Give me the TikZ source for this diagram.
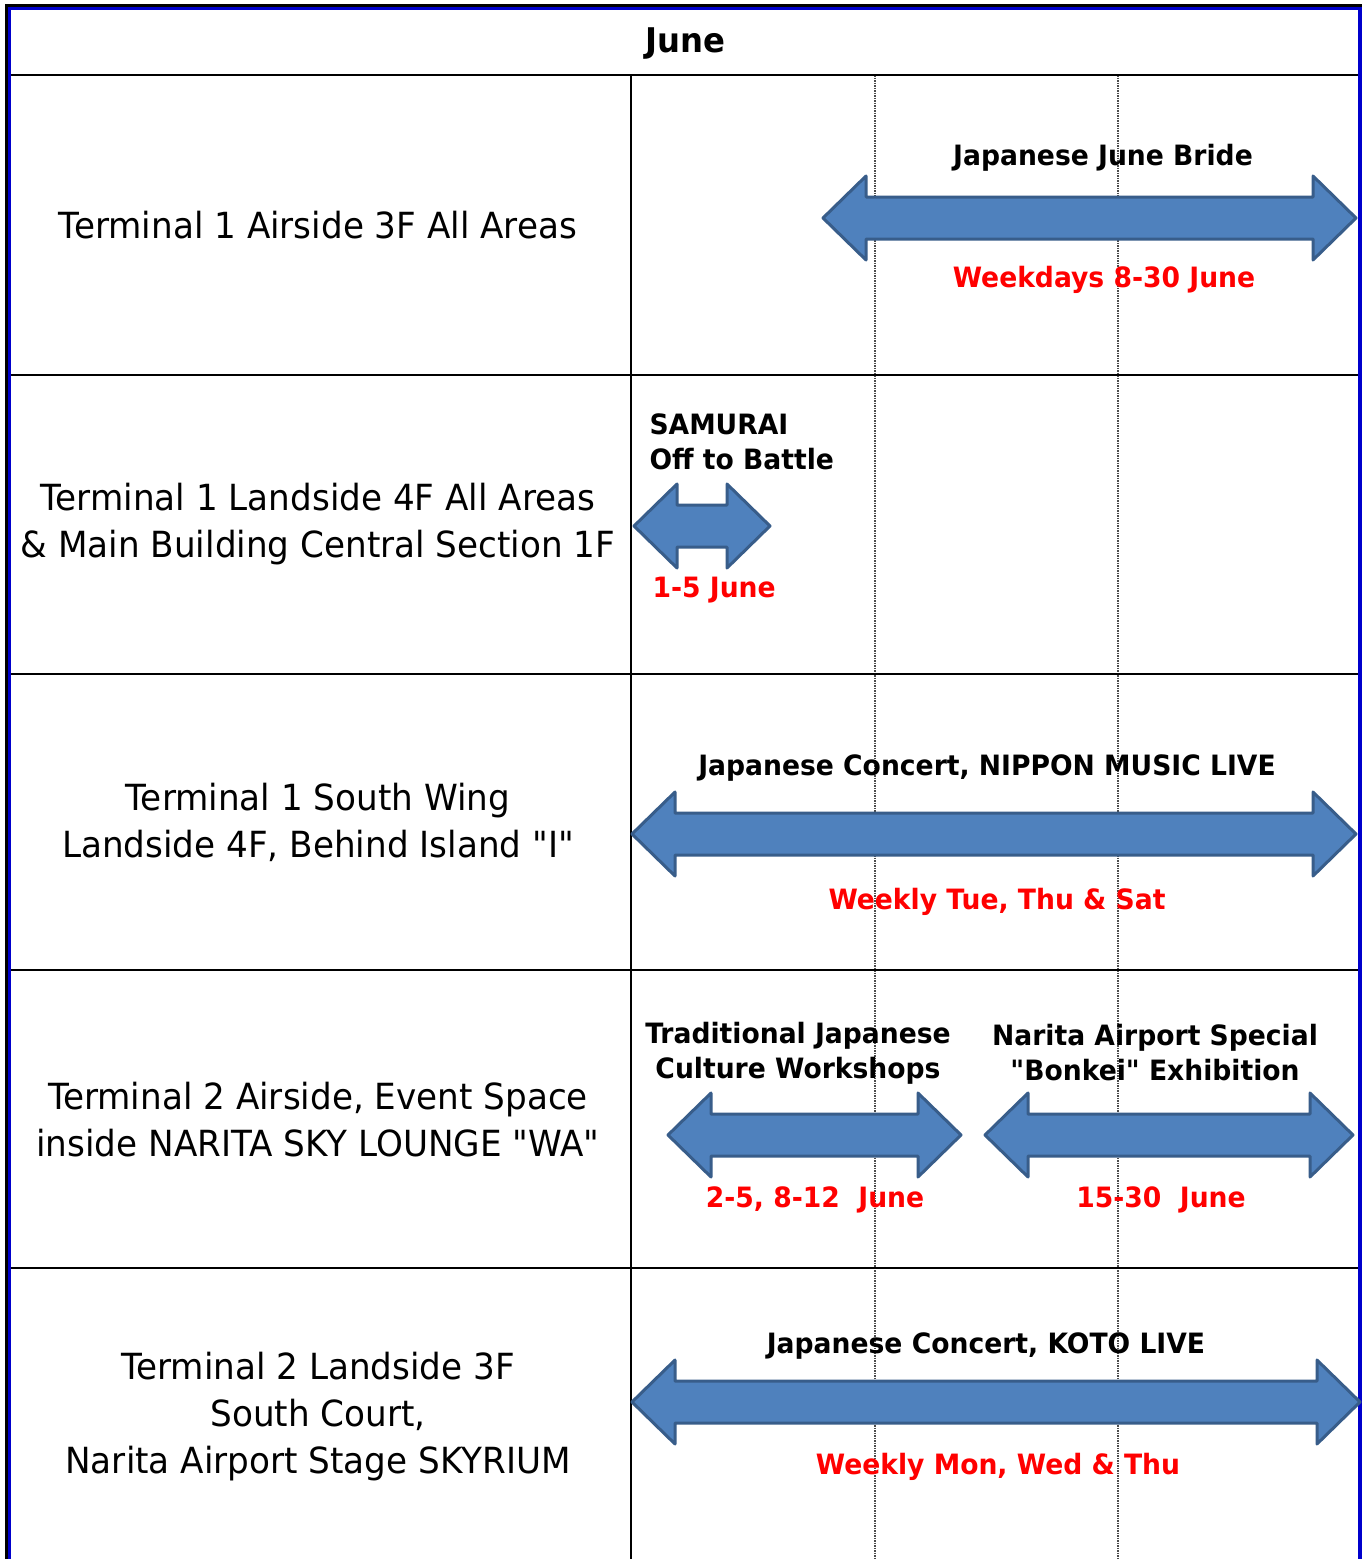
\documentclass[tikz,border=0pt]{standalone}
\usepackage{fontspec}
\setmainfont{DejaVu Sans}[FakeStretch=0.95,Ligatures=TeXOff]
\definecolor{frameblue}{HTML}{0000CC}
\definecolor{arrfill}{HTML}{4F81BD}
\definecolor{arrline}{HTML}{385D8A}
\tikzset{
  place/.style={font=\fontsize{36}{47}\selectfont, align=center},
  evtitle/.style={font=\bfseries\fontsize{28}{35}\selectfont, align=center, yshift=-3pt},
  evdate/.style={evtitle, text=red},
  evarr/.style={fill=arrfill, draw=arrline, line width=3pt, line join=round},
  daygrid/.style={gray!60!black, line width=1.8pt, dash pattern=on 1.5pt off 1pt}
}
% double arrow: left tip x, right tip x, centre y
\newcommand{\evarrow}[3]{%
  \draw[evarr] (#1,#3) -- (#1+43,#3-42) -- (#1+43,#3-21) -- (#2-43,#3-21)
    -- (#2-43,#3-42) -- (#2,#3) -- (#2-43,#3+42) -- (#2-43,#3+21)
    -- (#1+43,#3+21) -- (#1+43,#3+42) -- cycle;}
\begin{document}
\begin{tikzpicture}[x=1pt,y=-1pt]
	\useasboundingbox (0,0) rectangle (1366,1559);
	\fill[white] (0,0) rectangle (1366,1559);
	% grid
	\draw[daygrid] (875,75)--(875,1559);
	\draw[daygrid] (1118,75)--(1118,1559);
	\draw[line width=2pt] (8,75)--(1360,75);
	\draw[line width=2pt] (8,375)--(1360,375);
	\draw[line width=2pt] (8,674)--(1360,674);
	\draw[line width=2pt] (8,970)--(1360,970);
	\draw[line width=2pt] (8,1268)--(1360,1268);
	\draw[line width=2pt] (631,75)--(631,1559);
	% frame
	\draw[line width=3pt] (6.5,1559)--(6.5,5)--(1362,5);
	\draw[frameblue,line width=3.5pt] (9.5,1559)--(9.5,8.5)--(1360,8.5)--(1360,1559);
	\node[evtitle, font=\bfseries\fontsize{34}{40}\selectfont] (month) at (685,41) {June};
	% places
	\node[place] (t1air) at (318,225) {Terminal 1 Airside 3F All Areas};
	\node[place] (t1land) at (318,524) {Terminal 1 Landside 4F All Areas\\\& Main Building Central Section 1F};
	\node[place] (t1south) at (318,822) {Terminal 1 South Wing\\Landside 4F, Behind Island "I"};
	\node[place] (t2air) at (318,1120) {Terminal 2 Airside, Event Space\\inside NARITA SKY LOUNGE "WA"};
	\node[place] (t2land) at (318,1417) {Terminal 2 Landside 3F\\South Court,\\Narita Airport Stage SKYRIUM};
	% events
	\evarrow{823}{1356}{218}
	\node[evtitle] (bride) at (1103,155) {Japanese June Bride};
	\node[evdate] (brided) at (1104,277) {Weekdays 8-30 June};
	\evarrow{634}{770}{526}
	\node[evtitle, align=left, anchor=west] (samurai) at (646,439) {SAMURAI\\Off to Battle};
	\node[evdate, anchor=west] (samuraid) at (649,587) {1-5 June};
	\evarrow{632}{1356}{834}
	\node[evtitle] (nippon) at (987,765) {Japanese Concert, NIPPON MUSIC LIVE};
	\node[evdate] (nippond) at (997,899) {Weekly Tue, Thu \& Sat};
	\evarrow{668}{961}{1135}
	\node[evtitle] (culture) at (798,1050) {Traditional Japanese\\Culture Workshops};
	\node[evdate] (cultured) at (815,1197) {2-5, 8-12\ \ June};
	\evarrow{985}{1353}{1135}
	\node[evtitle] (bonkei) at (1155,1050) {Narita Airport Special\\"Bonkei" Exhibition};
	\node[evdate] (bonkeid) at (1161,1197) {15-30\ \ June};
	\evarrow{632}{1360}{1402}
	\node[evtitle] (koto) at (986,1343) {Japanese Concert, KOTO LIVE};
	\node[evdate] (kotod) at (998,1464) {Weekly Mon, Wed \& Thu};
\end{tikzpicture}
\end{document}
